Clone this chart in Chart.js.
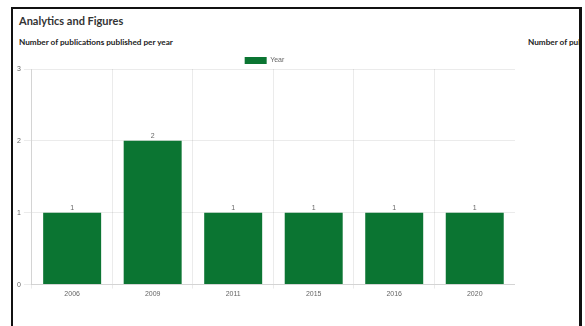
<!DOCTYPE html>
<html>
<head>
<meta charset="utf-8">
<script src="https://cdn.jsdelivr.net/npm/chart.js@4.4.0/dist/chart.umd.min.js"></script>
<style>
  html, body { margin: 0; padding: 0; background: #fff; width: 585px; height: 326px; overflow: hidden; }
  #frame { position: absolute; left: 11px; top: 7px; width: 566px; height: 330px; border-left: 2px solid #111; border-top: 2px solid #111; border-right: 3px solid #111; overflow: hidden; background: #fff; }
  #title { position: absolute; left: 6px; top: 5px; font-family: Lato, sans-serif; font-weight: bold; font-size: 11px; color: #333; white-space: nowrap; }
  .sub { position: absolute; top: 28px; font-family: Lato, sans-serif; font-weight: bold; font-size: 8.2px; color: #222; white-space: nowrap; }
  #wrap { position: absolute; left: 1px; top: 48px; width: 501px; height: 242px; }
</style>
</head>
<body>
<div id="frame">
  <div id="title">Analytics and Figures</div>
  <div class="sub" style="left:6px;">Number of publications published per year</div>
  <div class="sub" style="left:515px;">Number of publications published per year</div>
  <div id="wrap"><canvas id="c"></canvas></div>
</div>
<script>
const categories = ["2006", "2009", "2011", "2015", "2016", "2020"];
const seriesLabel = "Year";
const counts = [1, 2, 1, 1, 1, 1];
const yTicks = [0, 1, 2, 3];

const valueLabels = {
  id: 'valueLabels',
  afterDatasetsDraw(chart) {
    const ctx = chart.ctx;
    ctx.save();
    ctx.font = '7px "Liberation Sans", Arial, sans-serif';
    ctx.fillStyle = '#666';
    ctx.textAlign = 'center';
    ctx.textBaseline = 'bottom';
    chart.data.datasets.forEach((ds, i) => {
      chart.getDatasetMeta(i).data.forEach((bar, j) => {
        ctx.fillText(String(ds.data[j]), bar.x, bar.y - 1);
      });
    });
    ctx.restore();
  }
};

const tightLegend = {
  id: 'tightLegend',
  beforeLayout(chart) {
    const lg = chart.legend;
    if (lg && !lg._tightPatched) {
      const orig = lg.fit;
      lg.fit = function () { orig.call(this); this.height = Math.max(0, this.height - 5); };
      lg._tightPatched = true;
    }
  }
};

new Chart(document.getElementById('c'), {
  type: 'bar',
  data: {
    labels: categories,
    datasets: [{
      label: seriesLabel,
      data: counts,
      backgroundColor: '#0b7532',
      borderWidth: 0
    }]
  },
  options: {
    responsive: true,
    maintainAspectRatio: false,
    animation: false,
    layout: { padding: { left: 0, right: 0, top: 0, bottom: 0 } },
    plugins: {
      legend: {
        display: true,
        labels: { boxWidth: 22, boxHeight: 7, font: { size: 7, lineHeight: 1, family: '"Liberation Sans", Arial, sans-serif' }, color: '#666', padding: 0 }
      },
      tooltip: { enabled: false }
    },
    scales: {
      x: {
        grid: { color: 'rgba(0,0,0,0.08)', offset: true, tickLength: 4 },
        ticks: { font: { size: 7, family: '"Liberation Sans", Arial, sans-serif' }, color: '#666', padding: 1 }
      },
      y: {
        min: 0,
        max: yTicks[yTicks.length - 1],
        afterBuildTicks(scale) { scale.ticks = yTicks.map(v => ({ value: v })); },
        grid: { color: 'rgba(0,0,0,0.08)' },
        ticks: { font: { size: 7, family: '"Liberation Sans", Arial, sans-serif' }, color: '#666' }
      }
    }
  },
  plugins: [valueLabels, tightLegend]
});
</script>
</body>
</html>
